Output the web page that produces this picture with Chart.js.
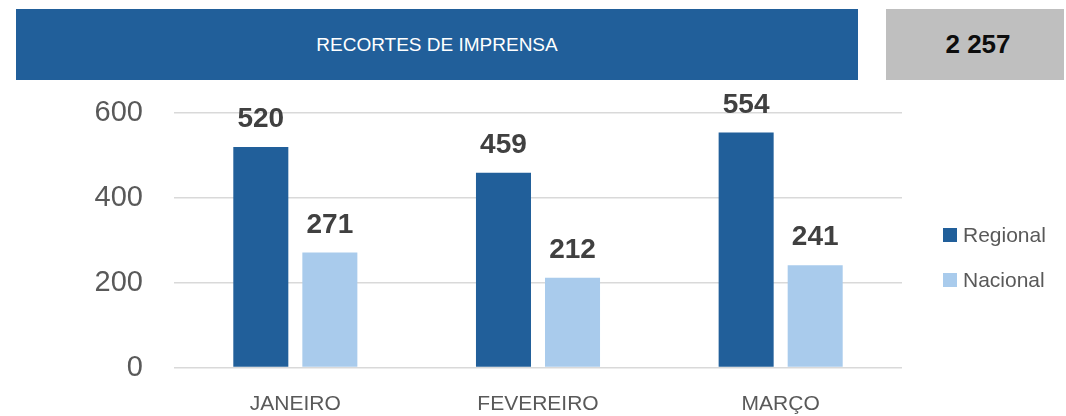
<!DOCTYPE html>
<html>
<head>
<meta charset="utf-8">
<script src="https://cdn.jsdelivr.net/npm/chart.js@4"></script>
<style>
  html, body { margin: 0; padding: 0; background: #ffffff; }
  body { width: 1066px; height: 416px; position: relative; overflow: hidden; font-family: "Liberation Sans", Arial, sans-serif; }
  #banner { position: absolute; left: 16px; top: 9px; width: 842px; height: 71px; background: #215F9A; color: #ffffff; font-size: 19px; display: flex; align-items: center; justify-content: center; }
  #total { position: absolute; left: 886px; top: 9px; width: 178px; height: 71px; background: #BFBFBF; color: #0d0d0d; font-size: 26px; font-weight: bold; display: flex; align-items: center; justify-content: center; padding-left: 6px; box-sizing: border-box; }
  #c { position: absolute; left: 0; top: 0; }
</style>
</head>
<body>
<canvas id="c" width="1066" height="416"></canvas>
<div id="banner">RECORTES DE IMPRENSA</div>
<div id="total">2 257</div>
<script>
const categories = ["JANEIRO", "FEVEREIRO", "MARÇO"];
const regional = [520, 459, 554];
const nacional = [271, 212, 241];
const seriesNames = ["Regional", "Nacional"];
const yTicks = [0, 200, 400, 600];

const FONT = '"Liberation Sans", Arial, sans-serif';

const valueLabels = {
  id: 'valueLabels',
  afterDatasetsDraw(chart) {
    const ctx = chart.ctx;
    ctx.save();
    ctx.font = 'bold 28px ' + FONT;
    ctx.fillStyle = '#404040';
    ctx.textAlign = 'center';
    ctx.textBaseline = 'alphabetic';
    chart.data.datasets.forEach((ds, di) => {
      const meta = chart.getDatasetMeta(di);
      meta.data.forEach((el, i) => {
        ctx.fillText(String(ds.data[i]), el.x, el.y - 20);
      });
    });
    ctx.restore();
  }
};

const sideLegend = {
  id: 'sideLegend',
  afterDraw(chart) {
    const ctx = chart.ctx;
    ctx.save();
    ctx.font = '21px ' + FONT;
    ctx.textBaseline = 'middle';
    ctx.textAlign = 'left';
    chart.data.datasets.forEach((ds, i) => {
      const yc = 235 + i * 45;
      ctx.fillStyle = ds.backgroundColor;
      ctx.fillRect(943, yc - 7, 14, 14);
      ctx.fillStyle = '#595959';
      ctx.fillText(ds.label, 963, yc + 1);
    });
    ctx.restore();
  }
};

new Chart(document.getElementById('c'), {
  type: 'bar',
  data: {
    labels: categories,
    datasets: [
      { label: seriesNames[0], data: regional, backgroundColor: '#215F9A', borderWidth: 0 },
      { label: seriesNames[1], data: nacional, backgroundColor: '#A9CBEC', borderWidth: 0 }
    ]
  },
  options: {
    responsive: false,
    animation: false,
    devicePixelRatio: 1,
    datasets: { bar: { categoryPercentage: 0.569, barPercentage: 0.797 } },
    layout: { padding: { left: 0, right: 164, top: 113, bottom: 0 } },
    plugins: { legend: { display: false }, tooltip: { enabled: false } },
    scales: {
      x: {
        grid: { display: false, drawTicks: false },
        border: { display: false },
        ticks: { color: '#595959', font: { family: FONT, size: 21 }, padding: 24, maxRotation: 0 },
        afterFit(s) { s.height = 48; }
      },
      y: {
        min: 0, max: 600,
        afterBuildTicks(s) { s.ticks = yTicks.map(v => ({ value: v })); },
        grid: { color: '#d9d9d9', lineWidth: 1.5, drawTicks: false },
        border: { display: false },
        ticks: { color: '#595959', font: { family: FONT, size: 29 }, padding: 31 },
        afterFit(s) { s.width = 174; }
      }
    }
  },
  plugins: [valueLabels, sideLegend]
});
</script>
</body>
</html>
